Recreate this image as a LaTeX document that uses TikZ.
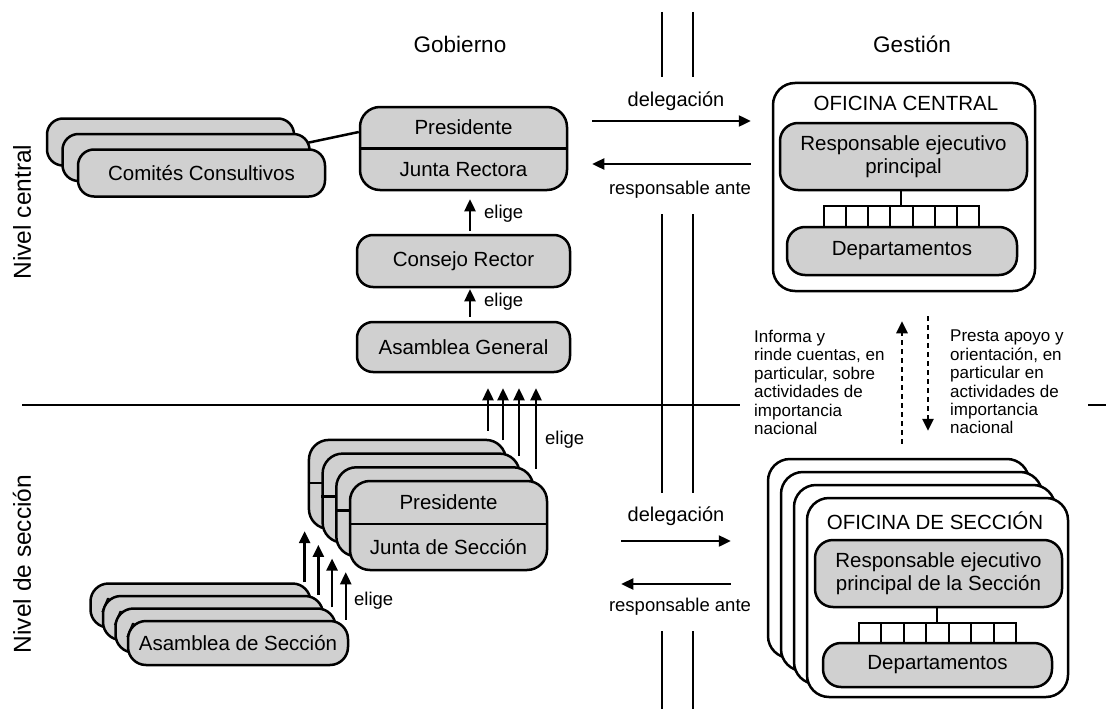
\documentclass[tikz,border=0pt]{standalone}
\usepackage{fontspec}
\setmainfont{Liberation Sans}
\usetikzlibrary{arrows.meta}
\definecolor{boxgray}{RGB}{208,208,208}
\begin{document}
\begin{tikzpicture}[x=1pt,y=-1pt,
  lw/.style={line width=2.5pt},
  gbox/.style={draw, fill=boxgray, lw, rounded corners=16pt, inner sep=0pt, align=center, font=\fontsize{20.5}{23}\selectfont},
  wbox/.style={draw, fill=white, lw, rounded corners=22pt, inner sep=0pt},
  cell/.style={draw, fill=white, line width=2pt, inner sep=0pt},
  txt/.style={inner sep=0pt, font=\fontsize{20.5}{23}\selectfont},
  ttl/.style={inner sep=0pt, font=\fontsize{22.5}{26}\selectfont},
  lvl/.style={inner sep=0pt, font=\fontsize{24.5}{28}\selectfont, rotate=90},
  lbl/.style={inner sep=0pt, font=\fontsize{18.5}{22}\selectfont},
  side/.style={inner sep=0pt, align=left, font=\fontsize{17}{18.4}\selectfont},
  sep/.style={line width=2.2pt},
  arr/.style={line width=2.4pt, -{Triangle[length=12pt,width=11pt]}},
  darr/.style={line width=2.6pt, dash pattern=on 5pt off 4pt, -{Triangle[length=12pt,width=11pt]}}
]
\useasboundingbox (0,0) rectangle (1109,709);

% titles and level labels
\node[ttl] (gob) at (460,44) {Gobierno};
\node[ttl] (ges) at (912,44) {Gestión};
\node[lvl] (nc) at (22,212) {Nivel central};
\node[lvl] (ns) at (22,564) {Nivel de sección};

% separators
\draw[sep] (22,405) -- (740,405);
\draw[sep] (1088,405) -- (1106,405);
\foreach \x in {662,693}{
  \draw[sep] (\x,12) -- (\x,77);
  \draw[sep] (\x,214) -- (\x,493);
  \draw[sep] (\x,631) -- (\x,709);
}

% Comites consultivos
\node[gbox, minimum width=247pt, minimum height=47pt] (com1) at (170.5,142) {};
\node[gbox, minimum width=247pt, minimum height=47pt] (com2) at (186,157.5) {};
\node[gbox, minimum width=247pt, minimum height=47pt] (com3) at (201.5,173) {Comités Consultivos};

% Presidente / Junta Rectora
\node[gbox, rounded corners=20pt, minimum width=207pt, minimum height=83pt] (pjr) at (463.5,148.5) {};
\draw[lw] (pjr.west) -- (pjr.east);
\node[txt] (pjrt) at (463.5,127) {Presidente};
\node[txt] (pjrb) at (463.5,170) {Junta Rectora};
\draw[lw] ([xshift=-4pt,yshift=14.5pt]com2.east) -- ([yshift=16.5pt]pjr.west);

% Consejo Rector, Asamblea General
\node[gbox, minimum width=213pt, minimum height=52pt] (cr) at (463.5,261) {Consejo Rector};
\node[gbox, minimum width=213pt, minimum height=50pt] (ag) at (463.5,347) {Asamblea General};
\draw[arr] ([xshift=6.5pt,yshift=3pt]cr.north) -- ([xshift=6.5pt,yshift=-8pt]pjr.south);
\node[lbl, anchor=west] (el1) at (484,214) {elige};
\draw[arr] ([xshift=6.5pt,yshift=4pt]ag.north) -- ([xshift=6.5pt,yshift=-1pt]cr.south);
\node[lbl, anchor=west] (el2) at (484,302) {elige};

% Section presidents stack
\foreach \i/\x/\y in {1/407.4/484.4, 2/421.1/498.1, 3/434.8/511.8, 4/448.5/525.5}{
  \node[gbox, rounded corners=20pt, minimum width=197pt, minimum height=89pt] (sp\i) at (\x,\y) {};
  \draw[lw] ([yshift=1.5pt]sp\i.west) -- ([yshift=1.5pt]sp\i.east);
}
\node[txt] (spt4) at (448.5,502.5) {Presidente};
\node[txt] (spb4) at (448.5,547) {Junta de Sección};

% arrows sections -> Asamblea General
\draw[arr] ([xshift=80.6pt,yshift=8pt]sp1.north) -- ([xshift=24.5pt,yshift=-15pt]ag.south);
\draw[arr] ([xshift=81.9pt,yshift=12pt]sp2.north) -- ([xshift=39.5pt,yshift=-15pt]ag.south);
\draw[arr] ([xshift=84.2pt,yshift=10pt]sp3.north) -- ([xshift=55.5pt,yshift=-15pt]ag.south);
\draw[arr] ([xshift=87.5pt,yshift=11pt]sp4.north) -- ([xshift=72.5pt,yshift=-15pt]ag.south);
\node[lbl, anchor=west] (el3) at (545,440) {elige};

% Asamblea de Seccion stack
\foreach \i/\x/\y in {1/200.5/605.5, 2/213/618, 3/225.5/630.5, 4/238/643}{
  \node[gbox, rounded corners=18pt, minimum width=220pt, minimum height=44pt] (sa\i) at (\x,\y) {Asamblea de Sección};
}
\foreach \i in {1,2,3,4}{
  \draw[arr] ([xshift=-3pt]sp\i.south west |- sa\i.north) -- ([xshift=-3pt,yshift=-1pt]sp\i.south west);
}
\node[lbl, anchor=west] (el4) at (354,601) {elige};

% Oficina central
\node[wbox, minimum width=262pt, minimum height=208pt] (oc) at (904,187) {};
\node[txt] (oct) at (906,103) {OFICINA CENTRAL};
\node[gbox, rounded corners=18pt, minimum width=247pt, minimum height=67pt] (ocr) at (903.5,156.5) {Responsable ejecutivo\\principal};
\foreach \k in {0,...,6}{
  \node[cell, minimum width=22.14pt, minimum height=21pt] (occ\k) at (835.07+\k*22.14,216.5) {};
}
\draw[line width=2pt] (ocr.south -| occ3.north) -- (occ3.north);
\node[gbox, rounded corners=18pt, minimum width=230pt, minimum height=48pt] (ocd) at (902,251) {Departamentos};

% Oficina de seccion stack
\foreach \i/\x/\y in {1/898.5/558.5, 2/911.5/571.5, 3/924.5/584.5, 4/937.5/597.5}{
  \node[wbox, minimum width=261pt, minimum height=199pt] (so\i) at (\x,\y) {};
}
\node[txt] (sot) at (935,521) {OFICINA DE SECCIÓN};
\node[gbox, rounded corners=18pt, minimum width=247pt, minimum height=67pt] (sor) at (938.5,573.5) {Responsable ejecutivo\\principal de la Sección};
\foreach \k in {0,...,6}{
  \node[cell, minimum width=22.43pt, minimum height=20pt] (soc\k) at (870.2+\k*22.43,633) {};
}
\draw[line width=2pt] (sor.south -| soc3.north) -- (soc3.north);
\node[gbox, rounded corners=18pt, minimum width=229pt, minimum height=44pt] (sod) at (937.5,665) {Departamentos};

% dotted arrows between levels
\draw[darr] ([xshift=3.5pt,yshift=14pt]so1.north) -- ([xshift=-2pt,yshift=-29pt]oc.south);
\draw[darr] ([xshift=24pt,yshift=-24pt]oc.south) -- ([xshift=29.5pt,yshift=27pt]so1.north);
\node[side, anchor=north west] (inf) at (754,330) {Informa y\\rinde cuentas, en\\particular, sobre\\actividades de\\importancia\\nacional};
\node[side, anchor=north west] (pre) at (950,330) {Presta apoyo y\\orientación, en\\particular en\\actividades de\\importancia\\nacional};

% delegation arrows (central)
\draw[arr] ([xshift=24pt,yshift=27.5pt]pjr.east) -- ([xshift=-21pt,yshift=27.5pt]pjr.east -| oc.west);
\draw[arr] ([xshift=-21pt,yshift=-15.5pt]pjr.east -| oc.west) -- ([xshift=24pt,yshift=-15.5pt]pjr.east);
\node[lbl, font=\fontsize{20}{24}\selectfont] (dl1) at (676,101) {delegación};
\node[lbl] (ra1) at (680,190) {responsable ante};

% delegation arrows (section)
\draw[arr] ([xshift=73pt,yshift=-15.5pt]sp4.east) -- ([xshift=-36pt,yshift=-15.5pt]sp4.east -| so1.west);
\draw[arr] ([xshift=-36pt,yshift=-58.5pt]sp4.east -| so1.west) -- ([xshift=73pt,yshift=-58.5pt]sp4.east);
\node[lbl, font=\fontsize{20}{24}\selectfont] (dl2) at (676,516) {delegación};
\node[lbl] (ra2) at (680,607) {responsable ante};
\end{tikzpicture}
\end{document}
